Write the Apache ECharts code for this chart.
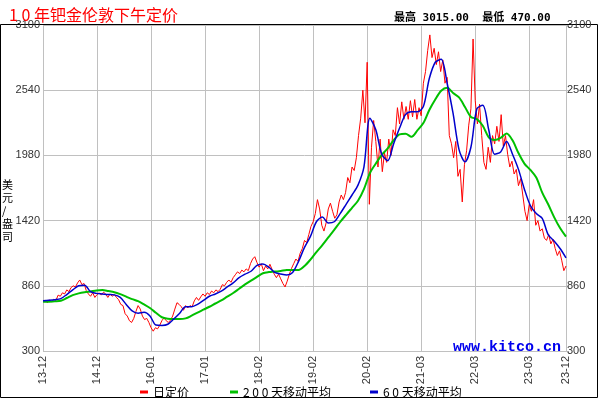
<!DOCTYPE html>
<html>
<head>
<meta charset="utf-8">
<script src="https://cdn.jsdelivr.net/npm/echarts@6/dist/echarts.min.js"></script>
<style>
  html, body { margin: 0; padding: 0; background: #fff; }
  #chart { width: 600px; height: 400px; }
</style>
</head>
<body>
<div id="chart"></div>
<script>
// x axis is counted in trading days from 2013-12
const tickLabels = ['13-12', '14-12', '16-01', '17-01', '18-02', '19-02', '20-02', '21-03', '22-03', '23-03', '23-12']
const tickDays = [0, 250, 500, 750, 1000, 1250, 1500, 1750, 2000, 2250, 2420]
const lastDay = 2420

// daily fixing, one value every 10 trading days
const dailyStep = 10
const daily = [
  725, 735, 715, 740, 720, 745, 735, 780, 770, 800,
  790, 825, 810, 845, 860, 850, 885, 910, 870, 880,
  820, 790, 770, 800, 760, 785, 800, 780, 805, 790,
  760, 790, 770, 785, 760, 740, 700, 690, 620, 600,
  560, 545, 580, 640, 690, 660, 600, 570, 580, 545,
  500, 470, 500, 490, 520, 560, 585, 560, 545, 565,
  600, 660, 715, 700, 680, 650, 690, 670, 690, 680,
  730, 760, 735, 765, 790, 770, 800, 785, 815, 800,
  825, 810, 830, 870, 860, 890, 910, 890, 930, 955,
  980, 965, 995, 980, 1005, 990, 1050, 1090, 1110, 1060,
  1020, 1050, 990, 1030, 1005, 1045, 1000, 960, 930, 960,
  920, 880, 850, 900, 960, 1010, 1050, 1090, 1070, 1140,
  1180, 1250, 1230, 1300, 1370, 1410, 1480, 1600, 1520, 1380,
  1330, 1400, 1520, 1570, 1500, 1440, 1470, 1580, 1640, 1600,
  1660, 1790, 1745, 1880, 1850, 1960, 2150, 2300, 2540, 2260,
  2780, 1560, 2050, 2280, 2100, 1880, 2120, 1840, 2000, 1920,
  2120, 1980, 2200, 2150, 2390, 2250, 2440, 2290, 2400, 2290,
  2450, 2310, 2460, 2290, 2390, 2320, 2600, 2700, 2880, 3015,
  2820, 2900, 2760, 2870, 2700, 2800, 2600, 2650, 2150, 2080,
  1960, 2100, 1800, 1860, 1580, 1900, 2020, 2240, 2380, 2980,
  2450, 2250, 2420, 2150, 1920, 1860, 2050, 1920, 2150, 2080,
  2230, 2100, 2330, 2060, 2150, 1990, 1880, 1930, 1820, 1860,
  1720, 1780, 1640, 1500, 1420, 1560, 1500, 1600, 1380, 1420,
  1330, 1350, 1270, 1250, 1300, 1220, 1260, 1180, 1120, 1160,
  1080, 990, 1030
]

// moving averages, one value every 27.5 trading days
const maStep = 27.5
const ma200 = [
  722, 724, 727, 732, 755, 780, 795, 805, 812, 820,
  824, 815, 805, 788, 767, 745, 728, 700, 669, 628,
  590, 577, 574, 574, 580, 603, 630, 655, 680, 708,
  735, 767, 798, 835, 872, 905, 936, 968, 978, 982,
  988, 995, 996, 996, 1030, 1085, 1150, 1210, 1275, 1340,
  1408, 1470, 1530, 1590, 1690, 1828, 1910, 1985, 2040, 2110,
  2160, 2165, 2140, 2195, 2258, 2370, 2460, 2535, 2560, 2516,
  2478, 2396, 2310, 2292, 2235, 2135, 2112, 2130, 2168, 2110,
  2000, 1910, 1855, 1790, 1660, 1560, 1450, 1356, 1282
]
const ma60 = [
  732, 735, 740, 750, 785, 825, 860, 865, 810, 795,
  790, 785, 782, 760, 700, 645, 625, 632, 601, 523,
  520, 530, 575, 625, 680, 680, 700, 735, 770, 790,
  815, 850, 885, 930, 960, 985, 1035, 1048, 1020, 975,
  962, 953, 975, 1070, 1190, 1285, 1410, 1450, 1400, 1410,
  1480, 1560, 1640, 1725, 1880, 2300, 2200, 1990, 1935, 2080,
  2215, 2330, 2355, 2355, 2400, 2640, 2780, 2805, 2600, 2340,
  2030, 1925, 2050, 2380, 2410, 2200, 1990, 2010, 2100, 1990,
  1860, 1690, 1550, 1480, 1440, 1300, 1245, 1180, 1100
]

const yMin = 300
const yMax = 3100
const yStep = 560
const high = 3015
const low = 470
const seriesNames = ['日定价', '2 0 0 天移动平均', '6 0 天移动平均']
const seriesColors = ['#ff0000', '#00c000', '#0000cc']

const toPairs = (arr, step) => arr.map((v, i) => [i * step, v])

const labelFont = {
  color: '#333',
  fontSize: 11,
  fontFamily: 'Liberation Sans, Arial, sans-serif'
}

let myChart = echarts.init(document.getElementById('chart'))
myChart.setOption({
  animation: false,
  title: [
    {
      text: '1 0 年钯金伦敦下午定价',
      left: 4,
      top: 2,
      textStyle: {
        color: '#ff0000',
        fontWeight: 'normal',
        fontSize: 16,
        fontFamily: 'Noto Sans CJK SC'
      }
    },
    {
      text: `最高 ${high.toFixed(2)}  最低 ${low.toFixed(2)}`,
      left: 389,
      top: 8,
      textStyle: {
        color: '#000',
        fontWeight: 'bold',
        fontSize: 11,
        fontFamily: 'DejaVu Sans Mono, Noto Sans CJK SC'
      }
    }
  ],
  legend: seriesNames.map((name, i) => ({
    data: [name],
    left: [135, 225, 365][i],
    top: 381,
    icon: 'rect',
    itemWidth: 8,
    itemHeight: 3,
    itemGap: 4,
    selectedMode: false,
    textStyle: {
      color: '#000',
      fontSize: 12,
      fontFamily: 'Noto Sans CJK SC'
    }
  })),
  grid: {
    left: 43,
    right: 34,
    top: 25,
    bottom: 49
  },
  xAxis: {
    type: 'value',
    min: 0,
    max: lastDay,
    interval: 250,
    axisLine: { show: false },
    axisTick: { show: false },
    splitLine: { show: true, lineStyle: { color: '#c0c0c0', width: 1 } },
    axisLabel: Object.assign({
      rotate: 90,
      margin: 5,
      showMinLabel: true,
      showMaxLabel: true,
      formatter: v => {
        let k = tickDays.indexOf(v)
        return k >= 0 ? tickLabels[k] : ''
      }
    }, labelFont)
  },
  yAxis: [
    {
      type: 'value',
      min: yMin,
      max: yMax,
      interval: yStep,
      axisLine: { show: false },
      axisTick: { show: false },
      splitLine: { show: true, lineStyle: { color: '#c0c0c0', width: 1 } },
      axisLabel: Object.assign({ margin: 3, formatter: v => String(v) }, labelFont)
    },
    {
      type: 'value',
      position: 'right',
      min: yMin,
      max: yMax,
      interval: yStep,
      axisLine: { show: false },
      axisTick: { show: true, length: 3, lineStyle: { color: '#c0c0c0' } },
      splitLine: { show: false },
      axisLabel: Object.assign({ margin: 1, formatter: v => String(v) }, labelFont)
    }
  ],
  series: [
    {
      name: seriesNames[0],
      type: 'line',
      data: toPairs(daily, dailyStep),
      symbol: 'none',
      color: seriesColors[0],
      lineStyle: { width: 1 },
      z: 2
    },
    {
      name: seriesNames[1],
      type: 'line',
      data: toPairs(ma200, maStep),
      symbol: 'none',
      smooth: 0.3,
      color: seriesColors[1],
      lineStyle: { width: 2 },
      z: 3
    },
    {
      name: seriesNames[2],
      type: 'line',
      data: toPairs(ma60, maStep),
      symbol: 'none',
      smooth: 0.3,
      color: seriesColors[2],
      lineStyle: { width: 1.5 },
      z: 4
    }
  ],
  graphic: [
    {
      type: 'rect',
      z: -1,
      shape: { x: 0.5, y: 24.5, width: 597, height: 373 },
      style: { fill: 'none', stroke: '#000', lineWidth: 1 },
      silent: true
    },
    {
      type: 'text',
      left: 2,
      top: 178,
      style: {
        text: '美\n元\n/\n盎\n司',
        fill: '#000',
        font: '11px "Noto Sans CJK SC"',
        lineHeight: 13,
        align: 'center'
      }
    },
    {
      type: 'text',
      left: 453,
      top: 340,
      z: 10,
      style: {
        text: 'www.kitco.cn',
        fill: '#0000ee',
        font: 'bold 15px "Liberation Mono", monospace'
      }
    }
  ]
})
</script>
</body>
</html>
